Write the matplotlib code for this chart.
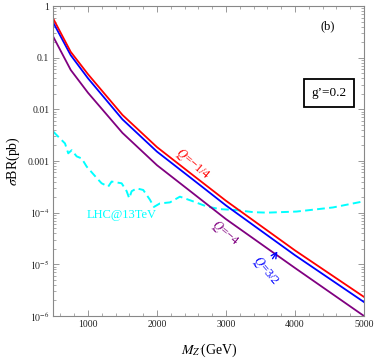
import matplotlib
matplotlib.use("Agg")
import matplotlib.pyplot as plt
from matplotlib.ticker import FixedLocator, FixedFormatter, MultipleLocator, LogLocator, NullFormatter

plt.rcParams['font.family'] = ['Liberation Serif', 'DejaVu Serif']
plt.rcParams['mathtext.fontset'] = 'stix'

# Z' mass points (GeV) and sigma*BR (pb)
mass = [500, 750, 1000, 1500, 2000, 2500, 3000, 4000, 5000]
xs_q_m14 = [0.56, 0.13, 0.048, 0.0078, 0.00186, 5.6e-4, 1.7e-4, 1.86e-5, 2.34e-6]
xs_q_32 = [0.47, 0.112, 0.040, 0.0064, 0.00152, 4.6e-4, 1.38e-4, 1.5e-5, 1.86e-6]
xs_q_m4 = [0.25, 0.058, 0.021, 0.0035, 8.3e-4, 2.5e-4, 7.5e-5, 8.5e-6, 1.0e-6]

# LHC 13 TeV limit
lhc_mass = [497, 667, 714, 764, 836, 909, 981, 1126, 1198, 1294, 1343, 1488, 1561,
            1598, 1633, 1706, 1801, 1898, 1956, 2043, 2188, 2333, 2521, 2720, 2912,
            3155, 3400, 3600, 4024, 4550, 5000]
lhc_xs = [3.7e-3, 2.19e-3, 1.41e-3, 1.62e-3, 1.23e-3, 1.12e-3, 7.8e-4, 4.7e-4, 3.7e-4,
          3.2e-4, 4.0e-4, 3.7e-4, 2.6e-4, 1.9e-4, 2.6e-4, 2.95e-4, 2.75e-4, 1.78e-4,
          1.29e-4, 1.51e-4, 1.58e-4, 2.04e-4, 1.66e-4, 1.32e-4, 1.17e-4, 1.12e-4,
          1.02e-4, 1.0e-4, 1.05e-4, 1.26e-4, 1.66e-4]

yticks = [1, 0.1, 0.01, 0.001, 1e-4, 1e-5, 1e-6]
ylabels = ['1', '0.1', '0.01', '0.001', r'$10^{-4}$', r'$10^{-5}$', r'$10^{-6}$']

purple = '#800080'

fig = plt.figure(figsize=(3.74, 3.59), dpi=100)
ax = fig.add_axes([0.143, 0.120, 0.830, 0.863])

ax.plot(lhc_mass, lhc_xs, color='#00ffff', lw=1.4, dashes=(4, 2.2))
ax.plot(mass, xs_q_m4, color=purple, lw=1.3)
ax.plot(mass, xs_q_32, color='#0000ff', lw=1.3)
ax.plot(mass, xs_q_m14, color='#ff0000', lw=1.3)

ax.set_yscale('log')
ax.set_xlim(500, 5000)
ax.set_ylim(1e-6, 1)

ax.xaxis.set_major_locator(FixedLocator([1000, 2000, 3000, 4000, 5000]))
ax.xaxis.set_minor_locator(MultipleLocator(200))
ax.yaxis.set_major_locator(FixedLocator(yticks))
ax.yaxis.set_major_formatter(FixedFormatter(ylabels))
ax.yaxis.set_minor_locator(LogLocator(base=10, subs=range(2, 10), numticks=20))
ax.yaxis.set_minor_formatter(NullFormatter())

for s in ax.spines.values():
    s.set_color('#888888')
    s.set_linewidth(0.8)
ax.tick_params(which='both', direction='in', top=True, right=True,
               color='#888888', labelsize=7, labelcolor='#222222', pad=3)
ax.tick_params(which='major', length=4, width=0.6)
ax.tick_params(which='minor', length=2, width=0.5)

ax.set_ylabel(r'$\sigma$BR(pb)', fontsize=10, labelpad=4)
ax.set_xlabel(r"$M_{Z^{\prime}}\!$(GeV)", fontsize=10, labelpad=9)


def px(x, y):
    return fig.transFigure.inverted().transform((x, 359 - y))


fig.text(*px(193, 164), r'$Q$=−1/4', color='#ff0000', fontsize=9, rotation=-40,
         ha='center', va='center')
fig.text(*px(225, 233), r'$Q$=−4', color=purple, fontsize=9, rotation=-40,
         ha='center', va='center')
fig.text(*px(266, 271), r'$Q$=3/2', color='#0000ff', fontsize=9, rotation=-50,
         ha='center', va='center')
fig.text(*px(122, 215), 'LHC@13TeV', color='#00ffff', fontsize=9,
         ha='center', va='center')
fig.text(*px(328, 26), '(b)', color='black', fontsize=9, ha='center', va='center')
fig.text(*px(329, 93), "g’=0.2", color='black', fontsize=9.5, ha='center', va='center',
         bbox=dict(boxstyle='square,pad=0.6', fc='white', ec='black', lw=1.3))
ax.annotate('', xy=px(279, 249), xytext=px(271, 261), xycoords='figure fraction',
            textcoords='figure fraction',
            arrowprops=dict(arrowstyle='->', color='#0000ff', lw=1.0))

fig.savefig('out.png', dpi=100)
